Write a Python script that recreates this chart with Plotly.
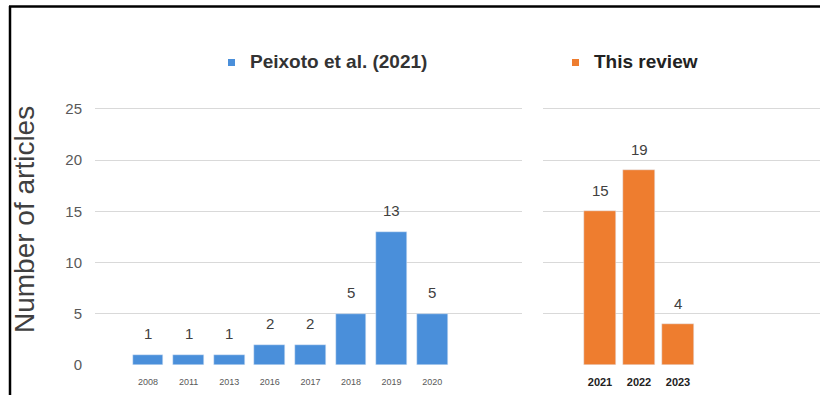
import plotly.graph_objects as go

# Article counts per publication year
prev_years = ["2008", "2011", "2013", "2016", "2017", "2018", "2019", "2020"]
prev_counts = [1, 1, 1, 2, 2, 5, 13, 5]
new_years = ["2021", "2022", "2023"]
new_counts = [15, 19, 4]
series_names = ["Peixoto et al. (2021)", "This review"]
y_ticks = [0, 5, 10, 15, 20, 25]

W, H = 820, 395
BOTTOM = 30                      # bottom margin in px
PLOT_H = H - BOTTOM              # height of the plotting area in px
PX_PER_UNIT = 10.25              # vertical scale

BLUE = "#4A8FDA"
ORANGE = "#EE7D2F"
GRID = "#D9D9D9"
TXT = "#404040"


def px_x(px):
    return px / W


def px_y(py):
    return (PLOT_H - py) / PLOT_H


fig = go.Figure()

fig.add_trace(go.Bar(x=prev_years, y=prev_counts, marker_color=BLUE, width=0.76,
                     xaxis="x", yaxis="y", showlegend=False, hoverinfo="x+y"))
fig.add_trace(go.Bar(x=new_years, y=new_counts, marker_color=ORANGE, width=0.82,
                     xaxis="x2", yaxis="y2", showlegend=False, hoverinfo="x+y"))

annotations = []
# value labels above the bars (category axes are addressed by index)
for yrs, vals, xr, yr in [(prev_years, prev_counts, "x", "y"), (new_years, new_counts, "x2", "y2")]:
    for i, v in enumerate(vals):
        annotations.append(dict(x=i, y=v, xref=xr, yref=yr, text=str(v), showarrow=False,
                                yshift=21, font=dict(family="Liberation Sans", size=15, color=TXT)))

# y axis title
annotations.append(dict(x=px_x(24), y=px_y(220), xref="paper", yref="paper",
                        text="Number of articles", textangle=-90, showarrow=False,
                        xanchor="center", yanchor="middle",
                        font=dict(family="Liberation Sans", size=28, color=TXT)))

# series keys
annotations.append(dict(x=px_x(248), y=px_y(62), xref="paper", yref="paper",
                        text="<b>%s</b>" % series_names[0], showarrow=False,
                        xanchor="left", yanchor="middle",
                        font=dict(family="Liberation Sans", size=19, color="#333333")))
annotations.append(dict(x=px_x(592), y=px_y(62), xref="paper", yref="paper",
                        text="<b>%s</b>" % series_names[1], showarrow=False,
                        xanchor="left", yanchor="middle",
                        font=dict(family="Liberation Sans", size=19, color="#222222")))

shapes = [
    # key squares
    dict(type="rect", xref="paper", yref="paper", x0=px_x(228), x1=px_x(235),
         y0=px_y(66), y1=px_y(59), fillcolor=BLUE, line=dict(width=0)),
    dict(type="rect", xref="paper", yref="paper", x0=px_x(572), x1=px_x(579),
         y0=px_y(66), y1=px_y(59), fillcolor=ORANGE, line=dict(width=0)),
    # frame lines
    dict(type="line", xref="paper", yref="paper", x0=px_x(9), x1=1.0,
         y0=px_y(6.5), y1=px_y(6.5), line=dict(color="black", width=2.5)),
    dict(type="line", xref="paper", yref="paper", x0=px_x(10), x1=px_x(10),
         y0=px_y(6), y1=px_y(H + 2), line=dict(color="black", width=2.5)),
]

y_top = PLOT_H / PX_PER_UNIT
left_x0, left_x1 = 95, 522
right_x0, right_x1 = 543, 820
sp_l, c0_l = 40.6, 148
sp_r, c0_r = 39.0, 600

fig.update_layout(
    width=W, height=H,
    margin=dict(l=0, r=0, t=0, b=BOTTOM),
    paper_bgcolor="white", plot_bgcolor="white",
    xaxis=dict(domain=[px_x(left_x0), px_x(left_x1)], type="category",
               range=[(left_x0 - c0_l) / sp_l, (left_x1 - c0_l) / sp_l],
               showgrid=False, showline=False, zeroline=False, ticks="",
               tickfont=dict(family="Liberation Sans", size=9, color="#595959"),
               anchor="y", ticklabelstandoff=10),
    yaxis=dict(domain=[0, 1], range=[0, y_top], tickvals=y_ticks,
               showgrid=True, gridcolor=GRID, gridwidth=1, zeroline=False,
               showline=False, ticks="", ticklabelstandoff=12,
               tickfont=dict(family="Liberation Sans", size=15, color="#595959"),
               anchor="x"),
    xaxis2=dict(domain=[px_x(right_x0), px_x(right_x1)], type="category",
                range=[(right_x0 - c0_r) / sp_r, (right_x1 - c0_r) / sp_r],
                showgrid=False, showline=False, zeroline=False, ticks="",
                tickfont=dict(family="Liberation Sans", size=11, color="#222222", weight="bold"),
                anchor="y2", ticklabelstandoff=9),
    yaxis2=dict(domain=[0, 1], range=[0, y_top], tickvals=y_ticks,
                showgrid=True, gridcolor=GRID, gridwidth=1, zeroline=False,
                showline=False, ticks="", showticklabels=False, anchor="x2"),
    annotations=annotations,
    shapes=shapes,
    bargap=0,
)

fig.write_html("out.html")
